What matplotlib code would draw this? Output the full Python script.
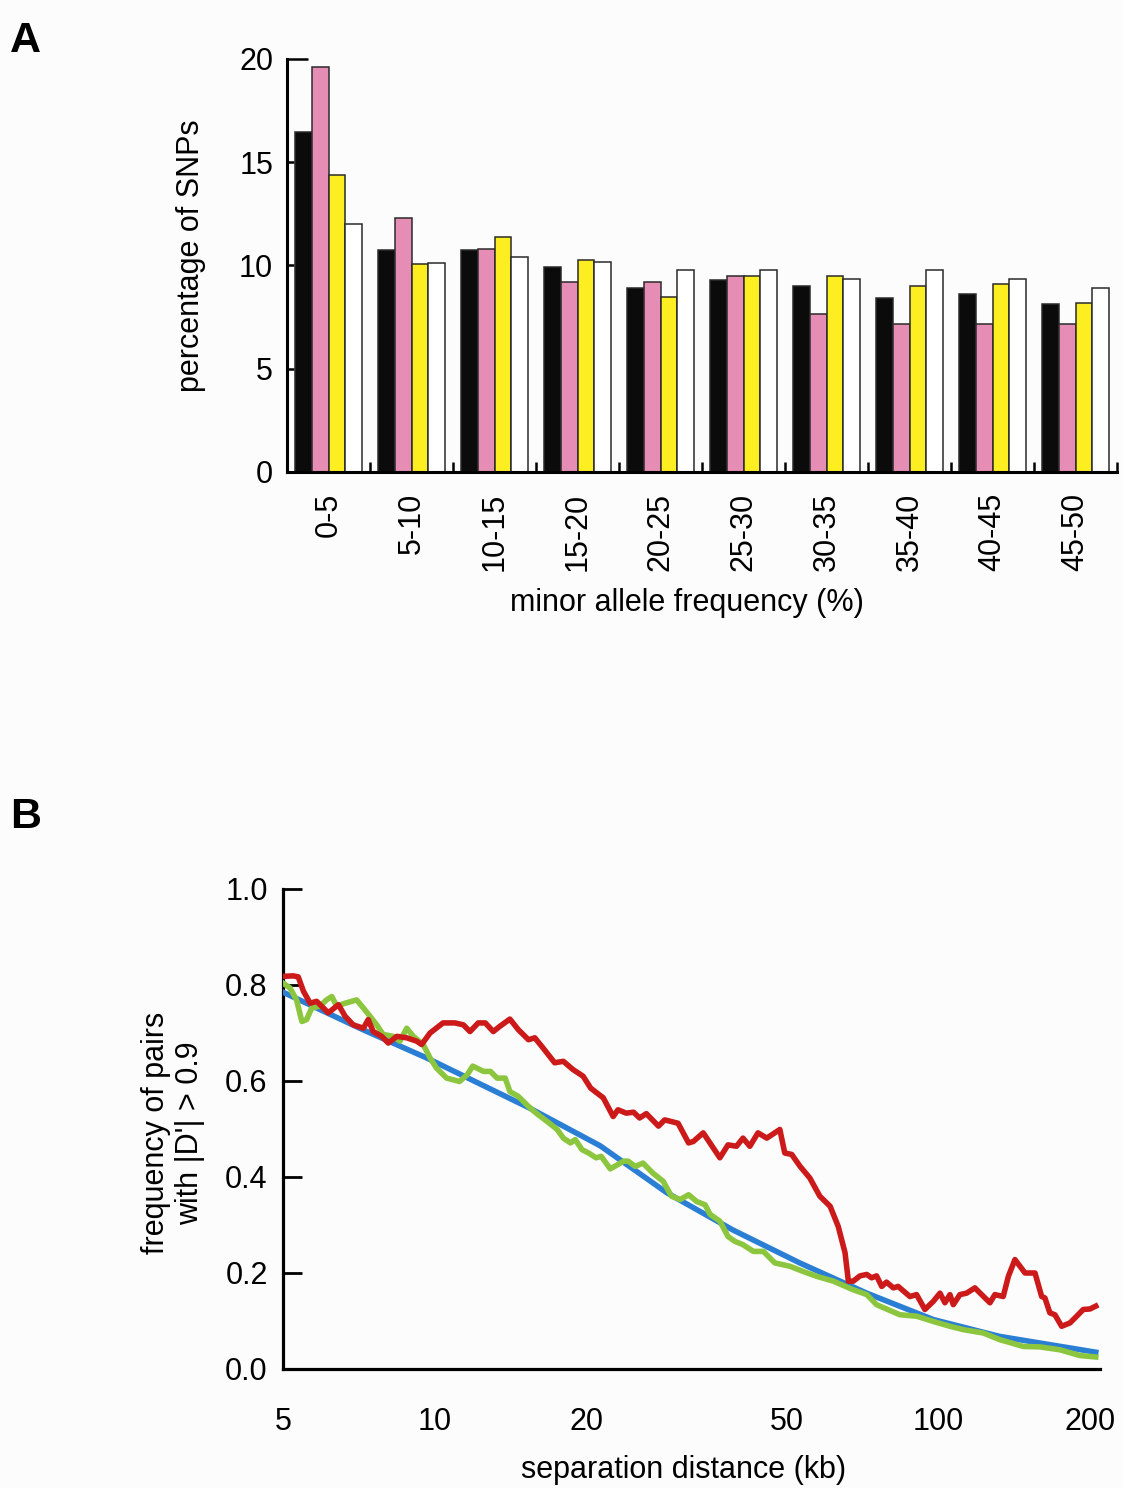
import numpy as np
import matplotlib
matplotlib.use('Agg')
import matplotlib.pyplot as plt
from matplotlib.ticker import FixedLocator, NullLocator, FixedFormatter, NullFormatter

plt.rcParams['font.family'] = ['Liberation Sans', 'DejaVu Sans']

# ---------------- Panel A data ----------------
categories = ['0-5', '5-10', '10-15', '15-20', '20-25', '25-30',
              '30-35', '35-40', '40-45', '45-50']
black_vals = [16.45, 10.74, 10.74, 9.94, 8.93, 9.32, 9.01, 8.43, 8.61, 8.13]
pink_vals = [19.6, 12.28, 10.8, 9.18, 9.18, 9.48, 7.67, 7.19, 7.19, 7.19]
yellow_vals = [14.38, 10.06, 11.39, 10.29, 8.48, 9.48, 9.48, 9.0, 9.1, 8.16]
white_vals = [12.0, 10.1, 10.42, 10.16, 9.77, 9.77, 9.37, 9.77, 9.37, 8.89]
a_yticks = [0, 5, 10, 15, 20]

# ---------------- Panel B data ----------------
blue_x = [5.0, 7.2, 9.64, 15.4, 21.3, 28.9, 39.0, 53.0, 72.0, 97.6, 132.0, 205.0]
blue_y = [0.785, 0.707, 0.648, 0.544, 0.465, 0.367, 0.29, 0.221, 0.158, 0.103, 0.068, 0.035]

green_x = [5.0, 5.16, 5.32, 5.45, 5.57, 5.70, 5.92, 6.10, 6.25, 6.39, 6.64, 7.0,
           7.22, 7.44, 7.67, 7.9, 8.27, 8.53, 8.80, 9.07, 9.49, 9.79, 10.08, 10.56,
           11.2, 11.6, 11.9, 12.5, 12.9, 13.3, 13.8, 14.1, 14.65, 15.35, 15.9, 16.7,
           17.5, 18.0, 18.6, 19.0, 19.6, 20.2, 20.9, 21.4, 22.3, 23.1, 23.7, 24.2,
           25.0, 25.9, 27.1, 28.4, 29.5, 30.7, 31.9, 33.1, 34.4, 35.2, 36.8, 38.2,
           39.4, 40.9, 42.9, 44.9, 47.3, 50.7, 53.9, 57.3, 61.8, 67.7, 72.0, 75.3,
           78.8, 83.8, 90.4, 97.6, 105.3, 111.9, 122.6, 132.3, 147.2, 158.9, 174.0,
           190.7, 205.0]
green_y = [0.804, 0.794, 0.769, 0.724, 0.728, 0.752, 0.756, 0.769, 0.776, 0.756, 0.762, 0.769,
           0.752, 0.735, 0.717, 0.697, 0.693, 0.683, 0.710, 0.693, 0.676, 0.648, 0.627, 0.606,
           0.599, 0.613, 0.631, 0.620, 0.620, 0.606, 0.606, 0.578, 0.568, 0.547, 0.533, 0.516,
           0.499, 0.481, 0.471, 0.478, 0.457, 0.450, 0.440, 0.443, 0.417, 0.426, 0.433, 0.433,
           0.422, 0.429, 0.408, 0.391, 0.360, 0.353, 0.363, 0.349, 0.342, 0.322, 0.308, 0.276,
           0.266, 0.259, 0.245, 0.245, 0.221, 0.214, 0.203, 0.193, 0.183, 0.165, 0.155, 0.134,
           0.125, 0.113, 0.110, 0.099, 0.089, 0.082, 0.075, 0.061, 0.047, 0.046, 0.040,
           0.028, 0.025]

red_x = [5.0, 5.24, 5.36, 5.49, 5.66, 5.83, 5.96, 6.15, 6.44, 6.64, 6.89, 7.22,
         7.38, 7.55, 7.85, 8.09, 8.41, 8.80, 9.21, 9.42, 9.79, 10.39, 10.97, 11.4,
         11.75, 12.2, 12.6, 13.07, 13.47, 14.1, 14.65, 15.35, 15.8, 16.4, 17.3, 18.0,
         18.8, 19.7, 20.4, 21.6, 22.6, 23.1, 24.0, 24.8, 25.5, 26.3, 27.8, 28.6,
         30.4, 31.9, 32.6, 34.1, 36.8, 38.2, 39.7, 40.9, 42.2, 43.8, 45.6, 48.4,
         49.5, 51.1, 53.1, 55.5, 58.1, 60.9, 63.2, 65.2, 66.2, 67.7, 69.8, 72.0,
         73.6, 75.3, 77.1, 78.8, 81.3, 83.1, 87.7, 90.4, 93.9, 97.6, 100.6, 102.9,
         105.3, 106.9, 110.2, 113.6, 118.0, 121.7, 126.4, 129.3, 134.3, 137.5, 141.7, 148.4,
         155.3, 160.1, 162.5, 166.2, 170.1, 175.4, 182.2, 187.9, 193.6, 199.6, 205.0]
red_y = [0.818, 0.819, 0.817, 0.787, 0.762, 0.766, 0.756, 0.742, 0.759, 0.735, 0.717, 0.710,
         0.728, 0.703, 0.693, 0.679, 0.693, 0.690, 0.683, 0.676, 0.700, 0.721, 0.721, 0.717,
         0.703, 0.721, 0.721, 0.703, 0.714, 0.729, 0.707, 0.686, 0.690, 0.669, 0.638, 0.641,
         0.624, 0.610, 0.585, 0.565, 0.526, 0.540, 0.533, 0.535, 0.523, 0.532, 0.506, 0.519,
         0.512, 0.471, 0.474, 0.492, 0.440, 0.467, 0.464, 0.481, 0.464, 0.492, 0.481, 0.499,
         0.450, 0.447, 0.422, 0.398, 0.360, 0.339, 0.297, 0.242, 0.183, 0.183, 0.194, 0.197,
         0.190, 0.194, 0.172, 0.181, 0.169, 0.172, 0.151, 0.155, 0.124, 0.141, 0.158, 0.138,
         0.155, 0.134, 0.155, 0.158, 0.169, 0.155, 0.138, 0.155, 0.151, 0.193, 0.228, 0.200,
         0.200, 0.151, 0.148, 0.117, 0.113, 0.089, 0.096, 0.110, 0.124, 0.125, 0.131]

b_xticks = [5, 10, 20, 50, 100, 200]
b_xticklabels = ['5', '10', '20', '50', '100', '200']
b_yticks = [0.0, 0.2, 0.4, 0.6, 0.8, 1.0]
b_yticklabels = ['0.0', '0.2', '0.4', '0.6', '0.8', '1.0']

W, H = 1122, 1488
fig = plt.figure(figsize=(W / 100, H / 100), dpi=100, facecolor='#fcfcfc')

FS = 22

# ---------------- Panel A ----------------
axA = fig.add_axes([287 / W, 1 - 472 / H, (1117 - 287) / W, (472 - 59) / H])
axA.set_facecolor('none')
n = len(categories)
centers = np.arange(n) + 0.5
series = [black_vals, pink_vals, yellow_vals, white_vals]
colors = ['#0b0b0b', '#e68db5', '#fcee21', '#ffffff']
for j, (vals, c) in enumerate(zip(series, colors)):
    axA.bar(centers + (j - 1.5) * 0.2, vals, width=0.2, color=c,
            edgecolor='#2a2a2a', linewidth=1.1, zorder=2)
axA.set_xlim(0, n)
axA.set_ylim(0, 20)
for s in ['top', 'right']:
    axA.spines[s].set_visible(False)
for s in ['left', 'bottom']:
    axA.spines[s].set_linewidth(2.2)
axA.set_yticks(a_yticks)
axA.tick_params(axis='y', direction='in', length=5, width=1.8, pad=10, labelsize=FS)
axA.xaxis.set_major_locator(FixedLocator(np.arange(0, n + 1)))
axA.xaxis.set_major_formatter(NullFormatter())
axA.xaxis.set_minor_locator(FixedLocator(centers))
axA.xaxis.set_minor_formatter(FixedFormatter(categories))
axA.tick_params(axis='x', which='major', direction='in', length=7, width=1.8)
axA.tick_params(axis='x', which='minor', length=0, pad=15, labelsize=FS, labelrotation=90)
# longer cap tick at the top of the y axis
axA.yaxis.get_major_ticks()[-1].tick1line.set_markersize(15)

fig.text(191 / W, 1 - 256 / H, 'percentage of SNPs', rotation=90,
         ha='center', va='center', fontsize=FS)
fig.text(687 / W, 1 - 603 / H, 'minor allele frequency (%)',
         ha='center', va='center', fontsize=FS)
fig.text(10 / W, 1 - 52 / H, 'A', fontsize=31, fontweight='bold', ha='left', va='baseline')

# ---------------- Panel B ----------------
axB = fig.add_axes([283 / W, 1 - 1369 / H, (1100 - 283) / W, (1369 - 889) / H])
axB.set_facecolor('none')
axB.set_xscale('log')
axB.plot(blue_x, blue_y, color='#2a7fd5', lw=4.0, zorder=3, solid_joinstyle='round')
axB.plot(green_x, green_y, color='#8cc63f', lw=4.0, zorder=4, solid_joinstyle='round')
axB.plot(red_x, red_y, color='#cc1a1a', lw=4.0, zorder=5, solid_joinstyle='round')
axB.set_xlim(5, 209)
axB.set_ylim(0, 1)
for s in ['top', 'right']:
    axB.spines[s].set_visible(False)
for s in ['left', 'bottom']:
    axB.spines[s].set_linewidth(2.3)
axB.set_xticks(b_xticks)
axB.set_xticklabels(b_xticklabels)
axB.xaxis.set_minor_locator(NullLocator())
axB.tick_params(axis='x', length=0, pad=27, labelsize=FS)
axB.set_yticks(b_yticks)
axB.set_yticklabels(b_yticklabels)
axB.tick_params(axis='y', direction='in', length=14, width=2.0, pad=11, labelsize=FS)

fig.text(173 / W, 1 - 1133 / H, "frequency of pairs\nwith |D'| > 0.9", rotation=90,
         ha='center', va='center', fontsize=FS, multialignment='center', linespacing=1.15)
fig.text(684 / W, 1 - 1470 / H, 'separation distance (kb)',
         ha='center', va='center', fontsize=FS)
fig.text(10 / W, 1 - 828 / H, 'B', fontsize=31, fontweight='bold', ha='left', va='baseline')

fig.savefig('out.png', dpi=100, facecolor=fig.get_facecolor())
